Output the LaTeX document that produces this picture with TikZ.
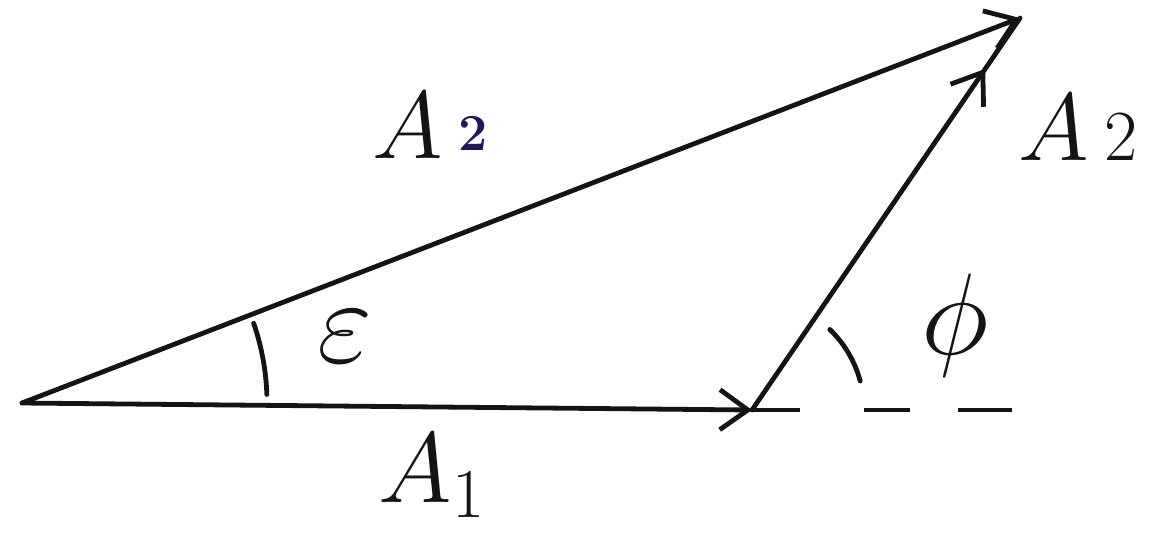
\RequirePackage{fix-cm}
\documentclass[tikz,border=0pt]{standalone}
\usetikzlibrary{arrows.meta,decorations.markings}
\definecolor{ink}{RGB}{20,20,20}
\definecolor{navyink}{RGB}{30,25,90}
\begin{document}
\begin{tikzpicture}[x=0.5pt,y=-0.5pt,
  vec/.style={draw=ink,line width=2.4pt,line cap=round,-{Straight Barb[length=14pt,width=20pt,line width=2.4pt]}},
  plain/.style={draw=ink,line width=2.4pt,line cap=round},
  lbl/.style={inner sep=0pt,text=ink}]
\useasboundingbox (0,0) rectangle (1149,536);
\coordinate (O) at (22,403);
\coordinate (B) at (752,410);
\coordinate (C) at (1020,18);
\coordinate (D) at (1013,410);
% resultant
\draw[vec] (O) -- (C);
% A1
\draw[vec] (O) -- (B);
% A2 with hand arrow part-way
\draw[plain,postaction={decorate},decoration={markings,
  mark=at position 0.87 with {\arrow{Straight Barb[length=14pt,width=20pt,line width=2.4pt]}}}] (B) -- (C);
% dashed extension
\draw[plain,line cap=butt,dash pattern=on 24pt off 32pt on 23pt off 24pt on 27pt] (B) -- (D);
% angle arcs
\draw[plain] (O) ++(-2:245) arc[start angle=-2,end angle=-19,radius=245];
\draw[plain] (B) ++(-15:112) arc[start angle=-15,end angle=-46,radius=112];
% labels
\node[lbl] (lr) at (430,126) {\fontsize{48}{50}\selectfont$A$\,\raisebox{4pt}{\fontsize{26}{28}\selectfont\bfseries\color{navyink}2}};
\node[lbl] (l2) at (1078,128) {\fontsize{48}{52}\selectfont$A$\,{\fontsize{36}{40}\selectfont 2}};
\node[lbl] (l1) at (432,476) {\fontsize{50}{54}\selectfont$A_1$};
\node[lbl] (le) at (345,337) {\fontsize{60}{64}\selectfont$\varepsilon$};
\node[lbl] (lp) at (955,325) {\fontsize{58}{62}\selectfont$\phi$};
\end{tikzpicture}
\end{document}
